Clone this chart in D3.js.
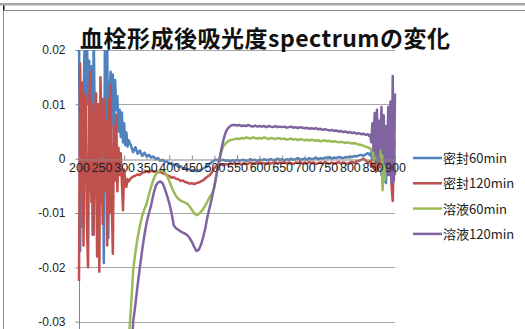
<!DOCTYPE html>
<html>
<head>
<meta charset="utf-8">
<script src="https://cdn.jsdelivr.net/npm/d3@7"></script>
<style>
  html, body { margin: 0; padding: 0; background: #fff; }
  svg { display: block; }
</style>
</head>
<body>
<svg id="chart" width="525" height="329"></svg>
<script>
// Wavelengths (nm): 2.5 nm steps at the noisy ends, 5 nm steps in between
const wavelengths = [
  200,202.5,205,207.5,210,212.5,215,217.5,220,222.5,
  225,227.5,230,232.5,235,237.5,240,242.5,245,247.5,
  250,252.5,255,257.5,260,262.5,265,267.5,270,272.5,
  275,277.5,280,282.5,285,287.5,290,292.5,295,297.5,
  300,302.5,305,307.5,310,
  315,320,325,330,335,340,345,
  350,355,360,365,370,375,380,385,390,395,
  400,405,410,415,420,425,430,435,440,445,
  450,455,460,465,470,475,480,485,490,495,
  500,505,510,515,520,525,530,535,540,545,
  550,555,560,565,570,575,580,585,590,595,
  600,605,610,615,620,625,630,635,640,645,
  650,655,660,665,670,675,680,685,690,695,
  700,705,710,715,720,725,730,735,740,745,
  750,755,760,765,770,775,780,785,790,795,
  800,805,810,815,820,825,830,835,840,
  842.5,845,847.5,850,852.5,855,857.5,860,862.5,865,
  867.5,870,872.5,875,877.5,880,882.5,885,887.5,890,
  892.5,895,897.5,900
];

const seriesNames = ["密封60min", "密封120min", "溶液60min", "溶液120min"];

// 密封60min
const sealed60 = [
  0.024,-0.017,0.012,-0.0125,0.009,0.022,0.004,0.024,0.010,0.018,
  -0.006,0.017,-0.014,0.024,0.006,0.012,-0.004,0.010,0.002,0.008,
  -0.008,0.011,-0.0192,0.024,0.005,0.024,-0.0146,0.012,0.016,0.006,
  0.0155,0.002,0.0145,0.009,0.0115,0.005,0.009,0.004,0.0085,0.003,
  0.0065,0.0025,0.0048,0.0022,0.0034,
  0.0024,0.0012,0.0021,0.0009,0.0015,0.0005,0.0011,
  0.0004,0.0007,0.0002,0.0004,-0.0001,0.0001,-0.0004,-0.0002,-0.0006,-0.0005,
  -0.0009,-0.0008,-0.0012,-0.0011,-0.0015,-0.0014,-0.0018,-0.0017,-0.0020,-0.0019,
  -0.0022,-0.0021,-0.0023,-0.0022,-0.0021,-0.0018,-0.0016,-0.0013,-0.0009,-0.0006,
  -0.0003,-0.0002,-0.0004,-0.0003,-0.0002,-0.0004,-0.0003,-0.0005,-0.0003,-0.0004,
  -0.0002,-0.0004,-0.0003,-0.0002,-0.0004,-0.0003,-0.0001,-0.0003,-0.0002,-0.0004,
  -0.0002,-0.0003,-0.0001,-0.0003,-0.0002,-0.0001,-0.0003,-0.0002,0.0000,-0.0002,
  -0.0001,-0.0003,-0.0001,-0.0002,0.0000,-0.0002,-0.0001,0.0001,-0.0002,-0.0001,
  0.0000,-0.0002,0.0001,-0.0001,0.0000,0.0002,-0.0001,0.0001,0.0000,0.0002,
  0.0001,0.0003,0.0000,0.0002,0.0001,0.0003,0.0002,0.0001,0.0003,0.0002,
  0.0004,0.0003,0.0005,0.0004,0.0006,0.0007,0.0005,0.0008,0.0010,
  0.0008,0.0006,0.0012,-0.0010,0.0015,-0.0020,0.0010,-0.0015,0.0020,-0.0005,
  0.0018,-0.0030,0.0012,-0.0042,0.0008,-0.0045,0.0015,-0.0030,0.0025,-0.0010,
  0.0035,-0.0020,0.0050,0.0060
];

// 密封120min
const sealed120 = [
  -0.0225,0.0175,-0.006,0.014,-0.016,0.012,0.011,-0.012,-0.020,0.009,
  0.016,-0.008,0.010,-0.014,0.005,0.012,-0.018,0.010,-0.0208,0.015,
  0.006,-0.012,0.011,-0.006,0.007,-0.016,0.011,-0.010,0.0136,-0.008,
  -0.0175,0.006,-0.004,0.008,-0.006,0.002,-0.003,0.001,-0.0045,-0.0095,
  -0.002,-0.004,-0.0052,-0.0038,-0.0042,
  -0.0036,-0.0033,-0.0031,-0.0029,-0.0030,-0.0026,-0.0025,
  -0.0023,-0.0025,-0.0022,-0.0024,-0.0023,-0.0025,-0.0024,-0.0027,-0.0028,-0.0031,
  -0.0032,-0.0035,-0.0034,-0.0037,-0.0038,-0.0041,-0.0040,-0.0043,-0.0044,-0.0046,
  -0.0045,-0.0047,-0.0045,-0.0044,-0.0042,-0.0040,-0.0036,-0.0033,-0.0030,-0.0024,
  -0.0017,-0.0013,-0.0012,-0.0011,-0.0012,-0.0010,-0.0011,-0.0009,-0.0010,-0.0008,
  -0.0010,-0.0009,-0.0011,-0.0008,-0.0010,-0.0009,-0.0007,-0.0010,-0.0008,-0.0009,
  -0.0007,-0.0009,-0.0008,-0.0010,-0.0007,-0.0009,-0.0008,-0.0006,-0.0009,-0.0007,
  -0.0008,-0.0006,-0.0009,-0.0007,-0.0008,-0.0010,-0.0007,-0.0008,-0.0006,-0.0009,
  -0.0007,-0.0009,-0.0006,-0.0008,-0.0007,-0.0010,-0.0008,-0.0007,-0.0009,-0.0006,
  -0.0008,-0.0010,-0.0007,-0.0009,-0.0008,-0.0006,-0.0009,-0.0007,-0.0008,-0.0010,
  -0.0007,-0.0006,-0.0008,-0.0005,-0.0004,-0.0002,0.0000,-0.0003,-0.0008,
  -0.0006,-0.0004,-0.0012,-0.0005,-0.0018,0.0002,-0.0024,-0.0010,-0.0022,0.0003,
  -0.0015,-0.0005,-0.0020,0.0008,-0.0012,0.0005,-0.0015,0.0010,-0.0020,0.0000,
  -0.0050,-0.0078,0.0010,-0.0030
];

// 溶液60min (below the plotted range before 300 nm)
const solution60 = [
  null,null,null,null,null,null,null,null,null,null,
  null,null,null,null,null,null,null,null,null,null,
  null,null,null,null,null,null,null,null,null,null,
  null,null,null,null,null,null,null,null,null,null,
  -0.050,-0.045,-0.040,-0.037,-0.0335,
  -0.0275,-0.0205,-0.0172,-0.0145,-0.0123,-0.0105,-0.0093,
  -0.0082,-0.0066,-0.0051,-0.0038,-0.0029,-0.0024,-0.0021,-0.0022,-0.0025,-0.0032,
  -0.0041,-0.0052,-0.0061,-0.0069,-0.0074,-0.0077,-0.0079,-0.0081,-0.0083,-0.0088,
  -0.0094,-0.0100,-0.0104,-0.0102,-0.0098,-0.0093,-0.0086,-0.0078,-0.0070,-0.0064,
  -0.0052,-0.0026,-0.0005,0.0012,0.0023,0.0028,0.0032,0.0034,0.0035,0.0036,
  0.0037,0.0036,0.0038,0.0037,0.0039,0.0038,0.0037,0.0039,0.0038,0.0037,
  0.0038,0.0037,0.0039,0.0038,0.0036,0.0038,0.0037,0.0036,0.0038,0.0037,
  0.0036,0.0037,0.0035,0.0036,0.0037,0.0035,0.0036,0.0034,0.0036,0.0035,
  0.0034,0.0035,0.0033,0.0035,0.0034,0.0033,0.0034,0.0032,0.0033,0.0034,
  0.0032,0.0033,0.0031,0.0032,0.0031,0.0030,0.0031,0.0030,0.0029,0.0030,
  0.0029,0.0028,0.0029,0.0027,0.0026,0.0025,0.0024,0.0022,0.0021,
  0.0020,0.0019,0.0015,0.0018,-0.0008,0.0016,0.0002,0.0022,-0.0003,0.0018,
  0.0005,0.0022,-0.0058,0.0015,-0.0040,0.0025,-0.0020,0.0030,-0.0015,0.0020,
  -0.0010,0.0030,0.0005,0.0035
];

// 溶液120min (below the plotted range before 300 nm)
const solution120 = [
  null,null,null,null,null,null,null,null,null,null,
  null,null,null,null,null,null,null,null,null,null,
  null,null,null,null,null,null,null,null,null,null,
  null,null,null,null,null,null,null,null,null,null,
  -0.065,-0.060,-0.055,-0.050,-0.046,
  -0.0375,-0.030,-0.0268,-0.0232,-0.0199,-0.0168,-0.0140,
  -0.0117,-0.0100,-0.0085,-0.0065,-0.0050,-0.0044,-0.0042,-0.0045,-0.0055,-0.0068,
  -0.0082,-0.0100,-0.0123,-0.0128,-0.0131,-0.0134,-0.0136,-0.0138,-0.0141,-0.0146,
  -0.0153,-0.0162,-0.0170,-0.0168,-0.0159,-0.0145,-0.0127,-0.0105,-0.0088,-0.0070,
  -0.0050,-0.0028,-0.0008,0.0016,0.0035,0.0049,0.0056,0.0060,0.0062,0.0062,
  0.0061,0.0062,0.0060,0.0061,0.0060,0.0062,0.0060,0.0059,0.0061,0.0059,
  0.0060,0.0059,0.0060,0.0058,0.0060,0.0059,0.0058,0.0060,0.0058,0.0059,
  0.0058,0.0059,0.0057,0.0058,0.0059,0.0057,0.0058,0.0056,0.0058,0.0057,
  0.0056,0.0057,0.0055,0.0056,0.0055,0.0056,0.0054,0.0055,0.0053,0.0054,
  0.0053,0.0052,0.0053,0.0051,0.0052,0.0050,0.0051,0.0049,0.0050,0.0048,
  0.0049,0.0047,0.0048,0.0046,0.0047,0.0045,0.0046,0.0044,0.0045,
  0.0042,0.0044,0.0030,0.0065,0.0015,0.0084,0.0005,0.0090,-0.0005,0.0070,
  0.0020,0.0095,0.0010,0.0080,-0.0010,0.0060,-0.0025,0.0095,-0.0030,0.0105,
  -0.0045,0.0152,-0.0040,0.0120
];

const seriesValues = [sealed60, sealed120, solution60, solution120];
const seriesColors = ["#4F81BD", "#C0504D", "#9BBB59", "#8064A2"];

const xTickValues = [200,250,300,350,400,450,500,550,600,650,700,750,800,850,900];
const yTickValues = [0.02, 0.01, 0, -0.01, -0.02, -0.03];
const yTickLabels = ["0.02", "0.01", "0", "-0.01", "-0.02", "-0.03"];
const chartTitle = "血栓形成後吸光度spectrumの変化";

const svg = d3.select("#chart");

// Sheet frame lines around the embedded chart
svg.append("rect").attr("x", 0).attr("y", 3).attr("width", 525).attr("height", 2.5).attr("fill", "#a6a6a6");
svg.append("rect").attr("x", 3).attr("y", 5.5).attr("width", 1.5).attr("height", 5).attr("fill", "#111");
svg.append("line").attr("x1", 3).attr("x2", 525).attr("y1", 10.5).attr("y2", 10.5)
  .attr("stroke", "#8c8c8c").attr("stroke-width", 1);
svg.append("line").attr("x1", 3.5).attr("x2", 3.5).attr("y1", 10).attr("y2", 329)
  .attr("stroke", "#8c8c8c").attr("stroke-width", 1);

// Plot area
const plotLeft = 79, plotRight = 395, plotTop = 50, plotBottom = 376;
const x = d3.scaleLinear().domain([200, 900]).range([plotLeft, plotRight]);
const y = d3.scaleLinear().domain([-0.04, 0.02]).range([plotBottom, plotTop]);

// Horizontal gridlines
svg.append("g").selectAll("line")
  .data(yTickValues.filter(v => v !== 0))
  .join("line")
  .attr("x1", plotLeft).attr("x2", plotRight)
  .attr("y1", d => Math.round(y(d)) + 0.5).attr("y2", d => Math.round(y(d)) + 0.5)
  .attr("stroke", "#a6a6a6").attr("stroke-width", 1);

// Y axis
const yAxis = svg.append("g")
  .attr("transform", `translate(${plotLeft + 0.5},0)`)
  .call(d3.axisLeft(y).tickValues(yTickValues)
    .tickFormat((d, i) => yTickLabels[i])
    .tickSize(4).tickPadding(10));
yAxis.select(".domain").attr("stroke", "#868686").attr("d", `M0,${y(0.02)}V${y(-0.04)}`);
yAxis.selectAll(".tick line").attr("stroke", "#868686");
yAxis.selectAll(".tick text")
  .attr("font-family", "'Liberation Sans', Arial, sans-serif")
  .attr("font-size", "12px").attr("fill", "#222");

// Series lines, clipped to the plot area
svg.append("clipPath").attr("id", "plotClip")
  .append("rect").attr("x", plotLeft - 2).attr("y", plotTop)
  .attr("width", plotRight - plotLeft + 4).attr("height", plotBottom - plotTop);

const line = d3.line()
  .defined(d => d[1] !== null)
  .x(d => x(d[0]))
  .y(d => y(d[1]));

const plot = svg.append("g").attr("clip-path", "url(#plotClip)");

// X axis along zero, ticks pointing up, labels below
const xAxis = svg.append("g")
  .attr("transform", `translate(0,${Math.round(y(0)) + 0.5})`)
  .call(d3.axisBottom(x).tickValues(xTickValues).tickFormat(d3.format("d"))
    .tickSizeInner(-4).tickSizeOuter(0).tickPadding(4));
xAxis.select(".domain").attr("stroke", "#868686");
xAxis.selectAll(".tick line").attr("stroke", "#868686");
xAxis.selectAll(".tick text")
  .attr("font-family", "'Liberation Sans', Arial, sans-serif")
  .attr("font-size", "12.5px").attr("fill", "#222");

seriesValues.forEach((vals, i) => {
  plot.append("path")
    .datum(wavelengths.map((w, j) => [w, vals[j]]))
    .attr("fill", "none")
    .attr("stroke", seriesColors[i])
    .attr("stroke-width", 2.5)
    .attr("stroke-linejoin", "round")
    .attr("d", line);
});

// Title
svg.append("text")
  .attr("x", 80).attr("y", 47)
  .attr("font-family", "'Noto Sans CJK JP', sans-serif")
  .attr("font-weight", "bold")
  .attr("font-size", "23px")
  .attr("fill", "#111")
  .attr("textLength", 370)
  .attr("lengthAdjust", "spacing")
  .text(chartTitle);

// Legend
const legend = svg.append("g");
seriesNames.forEach((name, i) => {
  const ly = 158 + i * 25.3;
  legend.append("line")
    .attr("x1", 413).attr("x2", 442).attr("y1", ly).attr("y2", ly)
    .attr("stroke", seriesColors[i]).attr("stroke-width", 2.5);
  legend.append("text")
    .attr("x", 443).attr("y", ly + 5)
    .attr("font-family", "'Noto Sans CJK JP', sans-serif")
    .attr("font-size", "13px")
    .attr("fill", "#222")
    .text(name);
});
</script>
</body>
</html>
